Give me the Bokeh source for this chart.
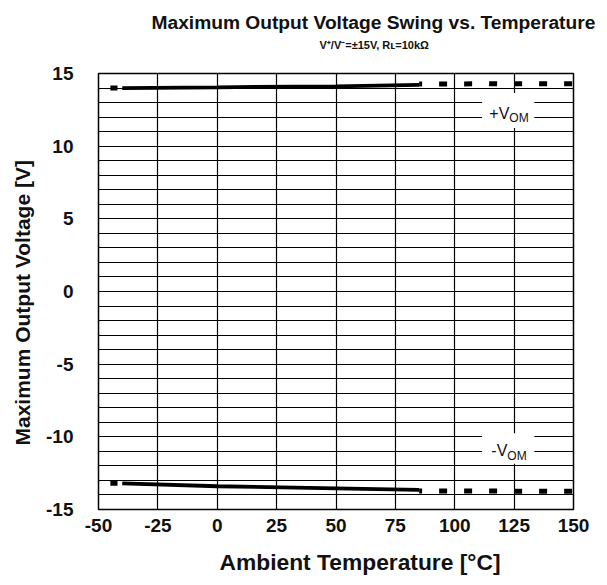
from bokeh.plotting import figure
from bokeh.models import Range1d, FixedTicker, Label, BoxAnnotation, Title
from bokeh.embed import file_html
from bokeh.resources import INLINE

# ---- data ----
temp_pos_solid = [-40, 0, 50, 85]
vom_pos_solid = [14.0, 14.05, 14.12, 14.22]
temp_pos_dash = [85, 150]
vom_pos_dash = [14.28, 14.3]
temp_pos_start = [-45, -42]
vom_pos_start = [14.0, 14.0]

temp_neg_solid = [-40, 0, 50, 85]
vom_neg_solid = [-13.2, -13.4, -13.55, -13.65]
temp_neg_dash = [85, 150]
vom_neg_dash = [-13.72, -13.75]
temp_neg_start = [-45, -42]
vom_neg_start = [-13.2, -13.2]

x_ticks = [-50, -25, 0, 25, 50, 75, 100, 125, 150]
y_ticks = [-15, -10, -5, 0, 5, 10, 15]
y_grid = list(range(-15, 16))

title_text = "Maximum Output Voltage Swing vs. Temperature"
subtitle_text = "V\u207a/V\u207b=\u00b115V, R\u029f=10k\u03a9"
x_title = "Ambient Temperature [\u00b0C]"
y_title = "Maximum Output Voltage [V]"

FONT = "Liberation Sans"
INK = "#111111"

FRAME_L, FRAME_T, FRAME_W, FRAME_H = 97, 73, 475, 436
W, H = 598, 577

p = figure(width=W, height=H, output_backend="svg", toolbar_location=None, title=None,
           x_range=Range1d(-50, 150), y_range=Range1d(-15, 15),
           min_border_left=FRAME_L, min_border_top=FRAME_T,
           min_border_right=W - FRAME_L - FRAME_W,
           min_border_bottom=H - FRAME_T - FRAME_H,
           frame_width=FRAME_W, frame_height=FRAME_H)

p.outline_line_color = "black"
p.outline_line_width = 1.5
p.background_fill_color = "white"
p.border_fill_color = "white"

p.xgrid.ticker = FixedTicker(ticks=x_ticks)
p.ygrid.ticker = FixedTicker(ticks=y_grid)
for g in (p.xgrid, p.ygrid):
    g.grid_line_color = "black"
    g.grid_line_alpha = 1.0
    g.grid_line_width = 1.2

p.xaxis.ticker = FixedTicker(ticks=x_ticks)
p.yaxis.ticker = FixedTicker(ticks=y_ticks)
p.xaxis.major_label_overrides = {t: str(t) for t in x_ticks}
p.yaxis.major_label_overrides = {t: str(t) for t in y_ticks}
for ax in (p.xaxis, p.yaxis):
    ax.axis_line_color = None
    ax.major_tick_line_color = None
    ax.minor_tick_line_color = None
    ax.major_tick_out = 0
    ax.major_tick_in = 0
    ax.major_label_text_font = FONT
    ax.major_label_text_font_style = "bold"
    ax.major_label_text_font_size = "19px"
    ax.major_label_text_color = INK
p.xaxis.major_label_standoff = 9
p.yaxis.major_label_standoff = 25
# tiny blank axis label only reserves a little room below the tick labels
p.xaxis.axis_label = " "
p.xaxis.axis_label_text_font_size = "1px"
p.xaxis.axis_label_standoff = 8

# ---- axis titles as side titles (allow off-centre placement like the reference) ----
p.add_layout(Title(text=x_title, text_font=FONT, text_font_style="bold",
                   text_font_size="22.8px", text_color=INK, align="left", offset=121,
                   vertical_align="bottom", standoff=0), "below")
p.add_layout(Title(text=y_title, text_font=FONT, text_font_style="bold",
                   text_font_size="21px", text_color=INK, align="left", offset=64,
                   vertical_align="middle", standoff=18), "left")

# ---- curves ----
for xs, ys in ((temp_pos_solid, vom_pos_solid), (temp_neg_solid, vom_neg_solid)):
    p.line(xs, ys, line_color="black", line_width=3.8)
for xs, ys in ((temp_pos_dash, vom_pos_dash), (temp_neg_dash, vom_neg_dash)):
    p.line(xs, ys, line_color="black", line_width=5, line_dash="8 17", line_dash_offset=5)
for xs, ys in ((temp_pos_start, vom_pos_start), (temp_neg_start, vom_neg_start)):
    p.line(xs, ys, line_color="black", line_width=5)

# ---- curve labels with white boxes ----
p.add_layout(BoxAnnotation(left=111.5, right=133.5, bottom=11.25, top=13.65,
                           fill_color="white", fill_alpha=1, line_color=None))
p.add_layout(BoxAnnotation(left=111.5, right=133.5, bottom=-11.85, top=-9.75,
                           fill_color="white", fill_alpha=1, line_color=None))

REG = {"+": 584, "-": 333, "V": 667, "O": 778, "M": 833}


def width(s, size, table):
    return sum(table.get(c, 556) for c in s) * size / 1000.0


def curve_label(sign, yval):
    main = sign + "V"
    w1 = width(main, 16, REG)
    w2 = width("OM", 12, REG)
    start = -(w1 + w2) / 2.0 + 2
    p.add_layout(Label(x=122, y=yval, x_offset=start, text=main, text_font=FONT,
                       text_font_size="16px", text_color="#111111",
                       text_align="left", text_baseline="middle"))
    p.add_layout(Label(x=122, y=yval, x_offset=start + w1, y_offset=-5, text="OM",
                       text_font=FONT, text_font_size="12px", text_color="#111111",
                       text_align="left", text_baseline="middle"))


curve_label("+", 12.25)
curve_label("-", -10.95)

# ---- title stack (first added sits nearest the frame) ----
p.add_layout(Title(text=" ", text_font_size="1px", standoff=20), "above")
p.add_layout(Title(text=subtitle_text, text_font=FONT, text_font_style="bold",
                   text_font_size="11px", text_color=INK, align="left", offset=221,
                   standoff=0), "above")
p.add_layout(Title(text=title_text, text_font=FONT, text_font_style="bold",
                   text_font_size="19.2px", text_color=INK, align="left", offset=53,
                   standoff=7), "above")

open("out.html", "w").write(file_html(p, INLINE))
